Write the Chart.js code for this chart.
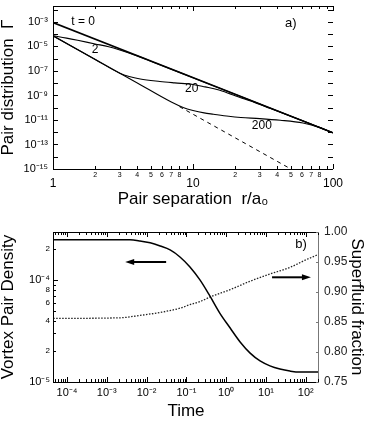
<!DOCTYPE html>
<html>
<head>
<meta charset="utf-8">
<script src="https://cdn.jsdelivr.net/npm/chart.js@4.4.1/dist/chart.umd.min.js"></script>
<style>
  html, body { margin: 0; padding: 0; background: #fff; }
  #wrap { position: relative; width: 374px; height: 427px; }
  canvas { position: absolute; left: 0; }
  #top_chart { top: 0; }
  #bottom_chart { top: 215px; }
</style>
</head>
<body>
<div id="wrap">
  <canvas id="top_chart" width="374" height="215"></canvas>
  <canvas id="bottom_chart" width="374" height="212"></canvas>
</div>
<script>
// panel a) pair distribution vs pair separation, one curve per time
const R_T0 = [1, 100]
const G_T0 = [8.9e-4, 8.9e-13]
const R_T2 = [1, 1.25, 1.5, 2, 2.5, 3, 4, 5, 10, 30, 100]
const G_T2 = [7.4e-5, 4.8e-5, 3.2e-5, 1.6e-5, 9.5e-6, 5.2e-6, 1.7e-6, 6.3e-7, 2.8e-8, 2.0e-10, 8.9e-13]
const R_T20 = [1, 2, 3, 3.5, 4.2, 5.8, 7.4, 10, 12.2, 15.1, 18.4, 22.4, 27.8, 35.5, 60, 100]
const G_T20 = [7.4e-5, 8.7e-7, 6.6e-8, 3.5e-8, 2.2e-8, 1.4e-8, 1.07e-8, 7.9e-9, 5.0e-9, 2.9e-9, 1.35e-9, 5.9e-10, 2.6e-10, 8.9e-11, 8.9e-12, 8.9e-13]
const R_T200 = [1, 4, 7, 8.5, 10, 12, 14, 18, 22, 30, 42, 61, 80, 100]
const G_T200 = [7.4e-5, 1.05e-8, 2.9e-10, 1.05e-10, 6.0e-11, 3.8e-11, 2.95e-11, 2.0e-11, 1.6e-11, 1.3e-11, 9.5e-12, 5.6e-12, 2.5e-12, 8.9e-13]
const R_DASH = [8, 50]
const G_DASH = [1.23e-10, 1.0e-15]

const TOP_X_TICKS = [1, 2, 3, 4, 5, 6, 7, 8, 9, 10, 20, 30, 40, 50, 60, 70, 80, 90, 100]
const TOP_X_LABELS = ['1', '2', '3', '4', '5', '6', '7', '8', '', '10', '2', '3', '4', '5', '6', '7', '8', '', '100']
const TOP_X_MAJOR = [1, 10, 100]
const TOP_Y_TICKS = [1e-15, 1e-14, 1e-13, 1e-12, 1e-11, 1e-10, 1e-9, 1e-8, 1e-7, 1e-6, 1e-5, 1e-4, 1e-3, 1e-2]
const TOP_Y_LABELS = ['10⁻¹⁵', '', '10⁻¹³', '', '10⁻¹¹', '', '10⁻⁹', '', '10⁻⁷', '', '10⁻⁵', '', '10⁻³', '']

const TAGS_A = ['t = 0', '2', '20', '200', 'a)']
const TAG_A_R = [1.64, 2.0, 9.8, 31, 50]
const TAG_A_G = [1.1e-3, 5.9e-6, 3.4e-9, 3.2e-12, 8.3e-4]

// panel b) vortex pair density and superfluid fraction vs time
const TIME_DENS = [4.5e-5, 1e-3, 3.8e-3, 6.8e-3, 0.0123, 0.022, 0.039, 0.069, 0.123, 0.219, 0.389, 0.69, 1.26, 2.24, 4.0, 7.1, 12.6, 22.4, 40, 71, 215]
const DENSITY = [2.47e-4, 2.47e-4, 2.47e-4, 2.41e-4, 2.31e-4, 2.15e-4, 1.97e-4, 1.68e-4, 1.34e-4, 1.0e-4, 6.97e-5, 4.74e-5, 3.38e-5, 2.47e-5, 1.92e-5, 1.61e-5, 1.44e-5, 1.34e-5, 1.28e-5, 1.25e-5, 1.25e-5]
const TIME_FRAC = [4.5e-5, 2.15e-3, 6.8e-3, 0.022, 0.069, 0.123, 0.219, 0.44, 1.26, 4.0, 12.6, 40, 96, 215]
const FRACTION = [0.856, 0.857, 0.861, 0.866, 0.873, 0.879, 0.884, 0.893, 0.904, 0.918, 0.930, 0.941, 0.953, 0.963]

const BOT_X_MAJOR = [1e-4, 1e-3, 1e-2, 1e-1, 1, 10, 100]
const BOT_X_LABELS = ['10⁻⁴', '10⁻³', '10⁻²', '10⁻¹', '10⁰', '10¹', '10²']
const BOT_Y_TICKS = [1e-5, 2e-5, 3e-5, 4e-5, 5e-5, 6e-5, 7e-5, 8e-5, 9e-5, 1e-4, 2e-4]
const BOT_Y_LABELS = ['10⁻⁵', '2', '', '4', '', '6', '', '8', '', '10⁻⁴', '2']
const FRAC_TICKS = [0.75, 0.80, 0.85, 0.90, 0.95, 1.00]
const FRAC_LABELS = ['0.75', '0.80', '0.85', '0.90', '0.95', '1.00']

const ARROW_DENS_T = [0.031, 0.0029]
const ARROW_DENS_Y = 1.5e-4
const ARROW_FRAC_T = [14.2, 135]
const ARROW_FRAC_Y = 0.9245
const TAG_B = 'b)'
const TAG_B_T = 76
const TAG_B_D = 2.25e-4

const FONT = "'Liberation Sans', Arial, sans-serif"
Chart.defaults.font.family = FONT
Chart.defaults.color = '#000'

const isPow10 = v => Math.abs(Math.log10(v) - Math.round(Math.log10(v))) < 1e-9

function curve (xs, ys, width, extra) {
  return Object.assign({
    data: xs.map((x, i) => ({ x: x, y: ys[i] })),
    showLine: true,
    borderColor: '#000',
    borderWidth: width,
    pointRadius: 0,
    cubicInterpolationMode: 'monotone'
  }, extra || {})
}

function noPad (s) {
  s.paddingLeft = 0
  s.paddingRight = 0
  s.paddingTop = 0
  s.paddingBottom = 0
}

// frame, inward ticks, arrows and curve tags
const frame = {
  id: 'frame',
  afterDatasetsDraw (chart, args, opts) {
    const { ctx, chartArea: a, scales } = chart
    ctx.save()
    ctx.lineWidth = 1
    opts.edges.forEach(([side, color]) => {
      ctx.strokeStyle = color
      ctx.beginPath()
      if (side === 'left') { ctx.moveTo(a.left + 0.5, a.top); ctx.lineTo(a.left + 0.5, a.bottom + 1) }
      if (side === 'right') { ctx.moveTo(a.right - 0.5, a.top); ctx.lineTo(a.right - 0.5, a.bottom + 1) }
      if (side === 'top') { ctx.moveTo(a.left, a.top + 0.5); ctx.lineTo(a.right, a.top + 0.5) }
      if (side === 'bottom') { ctx.moveTo(a.left, a.bottom + 0.5); ctx.lineTo(a.right, a.bottom + 0.5) }
      ctx.stroke()
    })
    opts.marks.forEach(([id, side, color]) => {
      const s = scales[id]
      ctx.strokeStyle = color
      ctx.beginPath()
      s.ticks.forEach(t => {
        const p = Math.round(s.getPixelForValue(t.value)) + 0.5
        const len = t.major ? 5 : 3
        if (side === 'bottom') { ctx.moveTo(p, a.bottom); ctx.lineTo(p, a.bottom - len) }
        if (side === 'top') { ctx.moveTo(p, a.top); ctx.lineTo(p, a.top + len) }
        if (side === 'left') { ctx.moveTo(a.left, p); ctx.lineTo(a.left + len, p) }
        if (side === 'right') { ctx.moveTo(a.right, p); ctx.lineTo(a.right - len, p) }
      })
      ctx.stroke()
    })
    ;(opts.arrows || []).forEach(ar => {
      const sx = scales[ar.x]
      const sy = scales[ar.y]
      const x0 = sx.getPixelForValue(ar.from)
      const x1 = sx.getPixelForValue(ar.to)
      const y = sy.getPixelForValue(ar.at)
      const dir = Math.sign(x1 - x0)
      ctx.strokeStyle = '#000'
      ctx.fillStyle = '#000'
      ctx.lineWidth = 2
      ctx.beginPath()
      ctx.moveTo(x0, y)
      ctx.lineTo(x1 - dir * 7, y)
      ctx.stroke()
      ctx.beginPath()
      ctx.moveTo(x1, y)
      ctx.lineTo(x1 - dir * 9, y - 3)
      ctx.lineTo(x1 - dir * 9, y + 3)
      ctx.closePath()
      ctx.fill()
    })
    ;(opts.tags || []).forEach(tg => {
      ctx.fillStyle = '#000'
      ctx.font = tg.size + 'px ' + FONT
      ctx.textAlign = 'center'
      ctx.textBaseline = 'middle'
      ctx.fillText(tg.text, scales[tg.x].getPixelForValue(tg.vx), scales[tg.y].getPixelForValue(tg.vy))
    })
    ctx.restore()
  }
}

const titleFont = { family: FONT, size: 17, lineHeight: 1 }

new Chart(document.getElementById('top_chart'), {
  type: 'scatter',
  plugins: [frame],
  data: {
    datasets: [
      curve(R_T0, G_T0, 1.6),
      curve(R_T2, G_T2, 1.1),
      curve(R_T20, G_T20, 1.1),
      curve(R_T200, G_T200, 1.1),
      curve(R_DASH, G_DASH, 1, { borderDash: [4, 4] })
    ]
  },
  options: {
    responsive: false,
    animation: false,
    events: [],
    layout: { padding: { top: 6, right: 41, left: 0, bottom: 0 } },
    plugins: {
      legend: { display: false },
      tooltip: { enabled: false },
      frame: {
        edges: [['left', '#000'], ['top', '#000'], ['bottom', '#000']],
        marks: [['x', 'bottom', '#000'], ['x', 'top', '#000'], ['y', 'left', '#000'], ['y', 'right', '#000']],
        tags: TAGS_A.map((t, i) => ({ text: t, x: 'x', y: 'y', vx: TAG_A_R[i], vy: TAG_A_G[i], size: i === 4 ? 13 : 12 }))
      }
    },
    scales: {
      x: {
        type: 'logarithmic',
        position: 'bottom',
        min: 1,
        max: 100,
        grid: { display: false, drawTicks: false },
        border: { display: false },
        afterBuildTicks: s => {
          s.ticks = TOP_X_TICKS.map(v => ({ value: v, major: TOP_X_MAJOR.includes(v) }))
        },
        afterFit: s => { s.height = 46; noPad(s) },
        ticks: {
          autoSkip: false,
          maxRotation: 0,
          minRotation: 0,
          padding: 1.5,
          color: '#000',
          font: c => (c.tick && c.tick.major)
            ? { family: FONT, size: 12, lineHeight: 2.17 }
            : { family: FONT, size: 7, lineHeight: 1.2 },
          callback: (v, i) => TOP_X_LABELS[i]
        },
        title: {
          display: true,
          text: 'Pair separation  r/a₀',
          color: '#000',
          font: titleFont,
          padding: { top: 0, bottom: 7.5 }
        }
      },
      y: {
        type: 'logarithmic',
        position: 'left',
        min: 1e-15,
        max: 2e-2,
        grid: { display: false, drawTicks: false },
        border: { display: false },
        afterBuildTicks: s => {
          s.ticks = TOP_Y_TICKS.map(v => ({ value: v, major: true }))
        },
        afterFit: s => { s.width = 53; noPad(s) },
        ticks: {
          autoSkip: false,
          padding: 5,
          color: '#000',
          font: { family: FONT, size: 11 },
          callback: (v, i) => TOP_Y_LABELS[i]
        },
        title: {
          display: true,
          text: 'Pair distribution  Γ',
          color: '#000',
          font: titleFont,
          padding: { top: 0, bottom: 0 }
        }
      }
    }
  }
})

new Chart(document.getElementById('bottom_chart'), {
  type: 'scatter',
  plugins: [frame],
  data: {
    datasets: [
      curve(TIME_DENS, DENSITY, 1.5, { yAxisID: 'y' }),
      curve(TIME_FRAC, FRACTION, 1.3, { yAxisID: 'y1', borderDash: [1.5, 1.5], borderColor: '#222' })
    ]
  },
  options: {
    responsive: false,
    animation: false,
    events: [],
    layout: { padding: { top: 17, right: 0, left: 0, bottom: 0 } },
    plugins: {
      legend: { display: false },
      tooltip: { enabled: false },
      frame: {
        edges: [['left', '#000'], ['top', '#000'], ['bottom', '#000'], ['right', '#777']],
        marks: [['x', 'bottom', '#000'], ['x', 'top', '#000'], ['y', 'left', '#000'], ['y1', 'right', '#777']],
        arrows: [
          { x: 'x', y: 'y', from: ARROW_DENS_T[0], to: ARROW_DENS_T[1], at: ARROW_DENS_Y },
          { x: 'x', y: 'y1', from: ARROW_FRAC_T[0], to: ARROW_FRAC_T[1], at: ARROW_FRAC_Y }
        ],
        tags: [{ text: TAG_B, x: 'x', y: 'y', vx: TAG_B_T, vy: TAG_B_D, size: 13 }]
      }
    },
    scales: {
      x: {
        type: 'logarithmic',
        position: 'bottom',
        min: 4.45e-5,
        max: 215,
        grid: { display: false, drawTicks: false },
        border: { display: false },
        afterBuildTicks: s => {
          const ticks = []
          for (let e = -5; e <= 2; e++) {
            for (let k = 1; k <= 9; k++) {
              const v = k * Math.pow(10, e)
              if (v >= s.min && v <= s.max) ticks.push({ value: v, major: k === 1 })
            }
          }
          s.ticks = ticks
        },
        afterFit: s => { s.height = 45; noPad(s) },
        ticks: {
          autoSkip: false,
          maxRotation: 0,
          minRotation: 0,
          padding: 4.4,
          color: '#000',
          font: { family: FONT, size: 11 },
          callback: v => {
            const j = BOT_X_MAJOR.findIndex(m => Math.abs(m - v) / m < 1e-6)
            return j >= 0 ? BOT_X_LABELS[j] : ''
          }
        },
        title: {
          display: true,
          text: 'Time',
          color: '#000',
          font: titleFont,
          padding: { top: 0, bottom: 7.5 }
        }
      },
      y: {
        type: 'logarithmic',
        position: 'left',
        min: 1e-5,
        max: 2.95e-4,
        grid: { display: false, drawTicks: false },
        border: { display: false },
        afterBuildTicks: s => {
          s.ticks = BOT_Y_TICKS.map(v => ({ value: v, major: isPow10(v) }))
        },
        afterFit: s => { s.width = 53; noPad(s) },
        ticks: {
          autoSkip: false,
          padding: 3,
          color: '#000',
          font: c => (c.tick && c.tick.major)
            ? { family: FONT, size: 11 }
            : { family: FONT, size: 8 },
          callback: (v, i) => BOT_Y_LABELS[i]
        },
        title: {
          display: true,
          text: 'Vortex Pair Density',
          color: '#000',
          font: titleFont,
          padding: { top: 0, bottom: 0 }
        }
      },
      y1: {
        type: 'linear',
        position: 'right',
        min: 0.75,
        max: 1.0,
        grid: { display: false, drawTicks: false },
        border: { display: false },
        afterBuildTicks: s => {
          s.ticks = FRAC_TICKS.map(v => ({ value: v, major: false }))
        },
        afterFit: s => { s.width = 55; noPad(s) },
        ticks: {
          autoSkip: false,
          padding: 5,
          color: '#222',
          font: { family: FONT, size: 12 },
          callback: (v, i) => FRAC_LABELS[i]
        },
        title: {
          display: true,
          text: 'Superfluid fraction',
          color: '#000',
          font: titleFont,
          padding: { top: 9, bottom: 0 }
        }
      }
    }
  }
})
</script>
</body>
</html>
